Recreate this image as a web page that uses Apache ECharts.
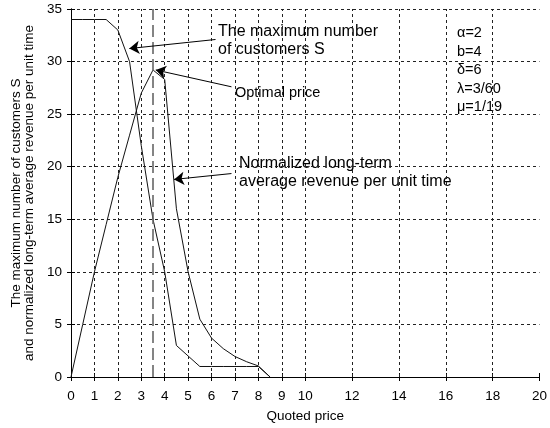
<!DOCTYPE html>
<html>
<head>
<meta charset="utf-8">
<script src="https://cdn.jsdelivr.net/npm/echarts@6/dist/echarts.min.js"></script>
<style>
html,body{margin:0;padding:0;background:#fff;}
#c{width:550px;height:428px;}
</style>
</head>
<body>
<div id="c"></div>
<script>
// ---- data ----
const price = [0, 0.5, 1, 1.5, 2, 2.5, 3, 3.5, 4, 4.5, 5, 5.5, 6, 6.5, 7, 7.5, 8, 8.5];
const maxCustomers = [34, 34, 34, 34, 33, 30, 22, 15, 10, 3, 2, 1, 1, 1, 1, 1, 1, 0];
const revenue = [0, 5, 10, 14.5, 19, 23, 27, 29.2, 28.3, 16, 10, 5.5, 3.7, 2.7, 1.95, 1.45, 1.05, 0];
const xTicks = [0, 1, 2, 3, 4, 5, 6, 7, 8, 9, 10, 12, 14, 16, 18, 20];
const yTicks = [0, 5, 10, 15, 20, 25, 30, 35];
const optimalPrice = 3.5;
const xTitle = 'Quoted price';
const yTitle = 'The maximum number of customers S\nand normalized long-term average revenue per unit time';
const labelS = 'The maximum number\nof customers S';
const labelOpt = 'Optimal price';
const labelRev = 'Normalized long-term\naverage revenue per unit time';
const params = ['α=2', 'b=4', 'δ=6', 'λ=3/60', 'μ=1/19'];
// arrows: [start, tip] in data coordinates
const arrowS = [[6.17, 32.1], [2.49, 31.24]];
const arrowOpt = [[6.85, 27.6], [3.62, 29.2]];
const arrowRev = [[6.85, 19.35], [4.40, 18.79]];

const FONT = 'Liberation Sans, Arial, sans-serif';
const chart = echarts.init(document.getElementById('c'), null, {renderer: 'canvas'});

const pair = (a, b) => a.map((v, i) => [v, b[i]]);
const inner = xTicks.filter(v => v > 0 && v < 20);

chart.setOption({
  animation: false,
  backgroundColor: '#fff',
  grid: {left: 71, right: 6, top: 9, bottom: 44},
  xAxis: [{
    type: 'value', min: 0, max: 20, position: 'bottom',
    axisLine: {lineStyle: {color: '#000', width: 1}},
    axisTick: {inside: true, length: 4, customValues: xTicks, lineStyle: {color: '#000'}},
    axisLabel: {customValues: xTicks, color: '#000', fontSize: 13.5, fontFamily: FONT, margin: 12},
    splitLine: {show: false},
    name: xTitle, nameLocation: 'middle', nameGap: 32,
    nameTextStyle: {color: '#000', fontSize: 13.5, fontFamily: FONT}
  }, {
    type: 'value', min: 0, max: 20, position: 'top',
    axisLine: {show: true, lineStyle: {color: '#000', width: 1}},
    axisTick: {inside: true, length: 4, customValues: xTicks, lineStyle: {color: '#000'}},
    axisLabel: {show: false},
    splitLine: {show: false}
  }],
  yAxis: [{
    type: 'value', min: 0, max: 35, interval: 5, position: 'left',
    axisLine: {show: true, lineStyle: {color: '#000', width: 1}},
    axisTick: {show: true, inside: true, length: 4, lineStyle: {color: '#000'}},
    axisLabel: {color: '#000', fontSize: 13.5, fontFamily: FONT, margin: 9},
    splitLine: {show: true, lineStyle: {color: '#222', type: [3, 3], width: 1}},
    name: yTitle, nameLocation: 'middle', nameGap: 28,
    nameTextStyle: {color: '#000', fontSize: 13.5, lineHeight: 13, fontFamily: FONT}
  }, {
    type: 'value', min: 0, max: 35, interval: 5, position: 'right',
    axisLine: {show: true, lineStyle: {color: '#000', width: 1}},
    axisTick: {show: true, inside: true, length: 4, lineStyle: {color: '#000'}},
    axisLabel: {show: false},
    splitLine: {show: false}
  }],
  series: [
    {
      type: 'line', name: 'grid', data: [], silent: true,
      markLine: {
        silent: true, symbol: ['none', 'none'], label: {show: false},
        lineStyle: {color: '#222', type: [3, 3], width: 1},
        data: inner.map(v => ({xAxis: v}))
      }
    },
    {
      type: 'line', name: 'optimal', data: [], silent: true,
      markLine: {
        silent: true, symbol: ['none', 'none'], label: {show: false},
        lineStyle: {color: '#666', type: [12, 5], width: 1.6},
        data: [{xAxis: optimalPrice}]
      }
    },
    {
      type: 'line', name: 'S', data: pair(price, maxCustomers),
      symbol: 'none', lineStyle: {color: '#111', width: 1}
    },
    {
      type: 'line', name: 'Revenue', data: pair(price, revenue),
      symbol: 'none', lineStyle: {color: '#111', width: 1}
    },
    {
      type: 'line', name: 'arrows', data: [], silent: true,
      markLine: {
        silent: true, symbol: ['none', 'arrow'], symbolSize: 10,
        label: {show: false},
        itemStyle: {color: '#000'},
        lineStyle: {color: '#000', type: 'solid', width: 1},
        data: [arrowS, arrowOpt, arrowRev].map(a => [{coord: a[0]}, {coord: a[1]}])
      }
    }
  ],
  graphic: [
    {type: 'text', left: 218, top: 22, style: {text: labelS, fontSize: 16, lineHeight: 18.5, fill: '#000', fontFamily: FONT}},
    {type: 'text', left: 235, top: 85, style: {text: labelOpt, fontSize: 14.5, lineHeight: 16, fill: '#000', fontFamily: FONT}},
    {type: 'text', left: 239, top: 154, style: {text: labelRev, fontSize: 16, lineHeight: 18.5, fill: '#000', fontFamily: FONT}},
    {type: 'text', left: 457, top: 24, style: {text: params.join('\n'), fontSize: 14.5, lineHeight: 18.5, fill: '#000', fontFamily: FONT}}
  ]
});
</script>
</body>
</html>
